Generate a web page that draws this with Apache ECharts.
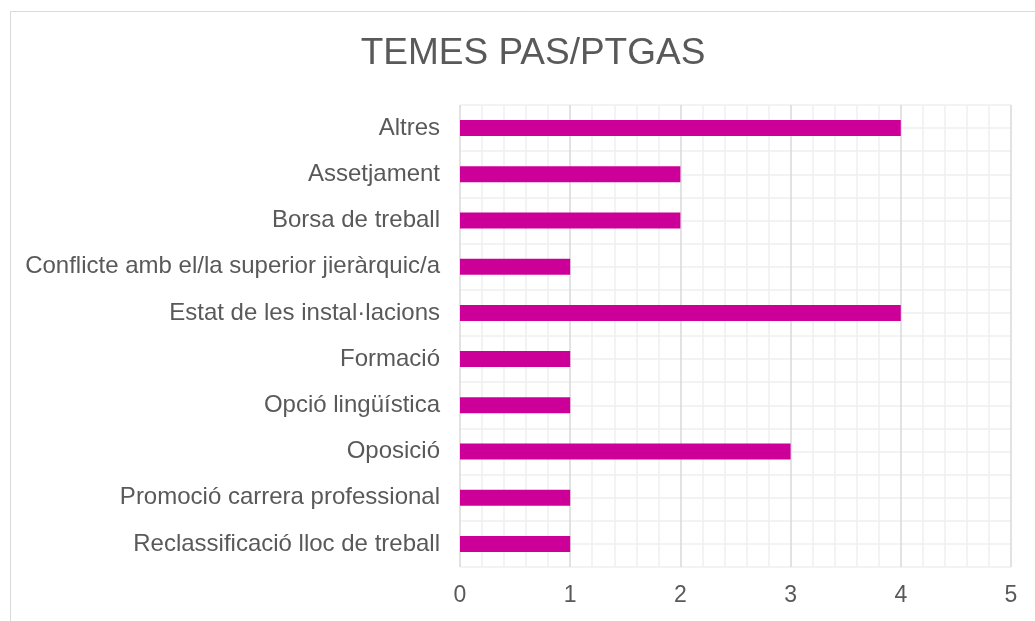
<!DOCTYPE html>
<html>
<head>
<meta charset="utf-8">
<script src="https://cdn.jsdelivr.net/npm/echarts@6/dist/echarts.min.js"></script>
<style>
  html, body { margin: 0; padding: 0; background: #fff; }
  #chart { width: 1035px; height: 621px; }
</style>
</head>
<body>
<div id="chart"></div>
<script>
  const categories = [
    'Altres',
    'Assetjament',
    'Borsa de treball',
    'Conflicte amb el/la superior jieràrquic/a',
    'Estat de les instal·lacions',
    'Formació',
    'Opció lingüística',
    'Oposició',
    'Promoció carrera professional',
    'Reclassificació lloc de treball'
  ];
  const counts = [4, 2, 2, 1, 4, 1, 1, 3, 1, 1];

  const textColor = '#595959';
  const font = '"Liberation Sans", Arial, sans-serif';

  const chart = echarts.init(document.getElementById('chart'));

  chart.setOption({
    backgroundColor: '#fff',
    animation: false,
    textStyle: { fontFamily: font },
    graphic: [
      {
        type: 'rect',
        left: 8,
        top: 9,
        shape: { width: 1040, height: 630 },
        style: { fill: 'none', stroke: '#d9d9d9', lineWidth: 1 },
        silent: true,
        z: -10
      }
    ],
    title: {
      text: 'TEMES PAS/PTGAS',
      left: 528,
      textAlign: 'center',
      top: 30,
      textStyle: { color: textColor, fontSize: 37, fontWeight: 'normal', fontFamily: font }
    },
    grid: { left: 460, right: 24, top: 105, bottom: 54 },
    xAxis: {
      type: 'value',
      min: 0,
      max: 5,
      interval: 1,
      axisLine: { show: false },
      axisTick: { show: false },
      axisLabel: { color: textColor, fontSize: 23, margin: 17 },
      splitLine: { lineStyle: { color: '#d9d9d9', width: 1.5 } },
      minorTick: { show: false, splitNumber: 5 },
      minorSplitLine: { show: true, lineStyle: { color: '#efefef', width: 1.5 } }
    },
    yAxis: [
      {
        type: 'category',
        data: categories,
        inverse: true,
        axisLine: { show: false },
        axisTick: { show: false },
        axisLabel: { color: textColor, fontSize: 24, margin: 20 },
        splitLine: { show: false }
      },
      {
        type: 'value',
        min: 0,
        max: 20,
        interval: 1,
        position: 'right',
        axisLine: { show: false },
        axisTick: { show: false },
        axisLabel: { show: false },
        splitLine: { show: true, lineStyle: { color: '#efefef', width: 1.5 } }
      }
    ],
    series: [
      {
        type: 'bar',
        data: counts,
        barWidth: 16,
        itemStyle: { color: '#cc0099' },
        z: 5
      }
    ]
  });
</script>
</body>
</html>
